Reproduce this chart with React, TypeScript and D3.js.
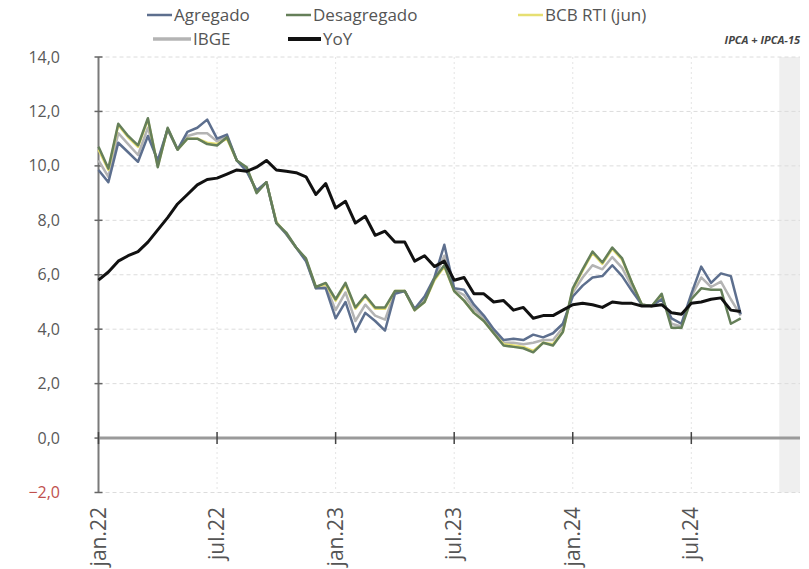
import React from "react";
import * as d3 from "d3";

// semi-monthly observations (IPCA + IPCA-15), jan.22 onwards
const agregado = [9.85, 9.4, 10.85, 10.5, 10.15, 11.1, 10.2, 11.35, 10.6, 11.25, 11.4, 11.7, 11.0, 11.15, 10.2, 9.8, 9.1, 9.4, 7.9, 7.5, 7.0, 6.5, 5.5, 5.5, 4.4, 5.0, 3.9, 4.6, 4.3, 3.95, 5.3, 5.4, 4.75, 5.2, 5.9, 7.1, 5.5, 5.45, 4.9, 4.5, 4.0, 3.6, 3.65, 3.6, 3.8, 3.7, 3.85, 4.2, 5.2, 5.6, 5.9, 5.95, 6.35, 5.95, 5.4, 4.9, 4.85, 5.1, 4.4, 4.2, 5.3, 6.3, 5.7, 6.05, 5.95, 4.55];
const desagregado = [10.7, 9.9, 11.55, 11.1, 10.75, 11.75, 9.95, 11.4, 10.6, 11.0, 11.0, 10.8, 10.75, 11.05, 10.2, 9.95, 9.0, 9.4, 7.9, 7.55, 7.0, 6.6, 5.55, 5.7, 5.1, 5.7, 4.8, 5.25, 4.8, 4.8, 5.4, 5.4, 4.7, 5.0, 5.85, 6.35, 5.4, 5.05, 4.6, 4.3, 3.85, 3.4, 3.35, 3.3, 3.15, 3.5, 3.4, 3.9, 5.5, 6.2, 6.85, 6.45, 7.0, 6.6, 5.7, 4.9, 4.85, 5.3, 4.05, 4.05, 5.1, 5.5, 5.45, 5.45, 4.2, 4.4];
const bcbRti = [10.6, 9.85, 11.5, 11.05, 10.7, 11.7, 10.0, 11.35, 10.6, 11.0, 11.0, 10.85, 10.8, 11.0, 10.2, 9.9, 9.05, 9.4, 7.95, 7.5, 7.0, 6.55, 5.55, 5.65, 5.05, 5.65, 4.75, 5.2, 4.75, 4.75, 5.4, 5.4, 4.7, 5.0, 5.8, 6.3, 5.4, 5.05, 4.6, 4.3, 3.85, 3.45, 3.4, 3.35, 3.2, 3.5, 3.45, 3.9, 5.45, 6.15, 6.8, 6.4, 6.95, 6.55, 5.7, 4.9, 4.85, 5.25];
const ibge = [10.2, 9.6, 11.2, 10.8, 10.4, 11.4, 10.1, 11.35, 10.6, 11.1, 11.2, 11.2, 10.9, 11.1, 10.2, 9.85, 9.05, 9.4, 7.9, 7.5, 7.0, 6.55, 5.5, 5.6, 4.7, 5.35, 4.3, 4.9, 4.5, 4.35, 5.35, 5.4, 4.7, 5.1, 5.85, 6.7, 5.45, 5.25, 4.75, 4.4, 3.9, 3.5, 3.5, 3.45, 3.5, 3.6, 3.6, 4.05, 5.35, 5.9, 6.35, 6.2, 6.65, 6.25, 5.55, 4.9, 4.85, 5.2, 4.2, 4.1, 5.2, 5.9, 5.55, 5.75, 5.1, 4.5];
const yoy = [5.8, 6.1, 6.5, 6.7, 6.85, 7.2, 7.65, 8.1, 8.6, 8.95, 9.3, 9.5, 9.55, 9.7, 9.85, 9.8, 9.95, 10.2, 9.85, 9.8, 9.75, 9.6, 8.95, 9.35, 8.45, 8.7, 7.9, 8.15, 7.45, 7.6, 7.2, 7.2, 6.5, 6.7, 6.3, 6.5, 5.8, 5.9, 5.3, 5.3, 5.0, 5.05, 4.7, 4.8, 4.4, 4.5, 4.5, 4.7, 4.9, 4.95, 4.9, 4.8, 5.0, 4.95, 4.95, 4.85, 4.85, 4.9, 4.6, 4.55, 4.95, 5.0, 5.1, 5.15, 4.7, 4.65];

const xTickIdx = [0, 12, 24, 36, 48, 60];
const xTickLabels = ["jan.22", "jul.22", "jan.23", "jul.23", "jan.24", "jul.24"];
const yTicks = [-2, 0, 2, 4, 6, 8, 10, 12, 14];

const FONT = "'Open Sans', 'DejaVu Sans', sans-serif";

export default function App() {
  const W = 809, H = 569;
  const x = d3.scaleLinear().domain([0, 71]).range([98.5, 800]);
  const y = d3.scaleLinear().domain([-2, 14]).range([492.5, 57]);
  const line = d3.line<number>().x((_, i) => x(i)).y((d) => y(d));

  const series = [
    { name: "IBGE", data: ibge, color: "#b4b4b4", w: 2.5 },
    { name: "BCB RTI (jun)", data: bcbRti, color: "#e6df72", w: 2.5 },
    { name: "Agregado", data: agregado, color: "#5d6f8e", w: 2.5 },
    { name: "Desagregado", data: desagregado, color: "#657f59", w: 2.5 },
    { name: "YoY", data: yoy, color: "#111111", w: 3 },
  ];

  const legend = [
    { name: "Agregado", color: "#5d6f8e", x1: 147, x2: 172, y: 15, w: 2.5 },
    { name: "Desagregado", color: "#657f59", x1: 286, x2: 311, y: 15, w: 2.5 },
    { name: "BCB RTI (jun)", color: "#e6df72", x1: 518, x2: 543, y: 15, w: 2.5 },
    { name: "IBGE", color: "#b4b4b4", x1: 153, x2: 191, y: 39, w: 3.5 },
    { name: "YoY", color: "#111111", x1: 288, x2: 321, y: 39, w: 4 },
  ];

  return (
    <svg width={W} height={H} style={{ position: "absolute", left: 0, top: 0, background: "#fff" }} fontFamily={FONT}>
      <rect x={0} y={0} width={W} height={H} fill="#fff" />
      {/* shaded band */}
      <rect x={x(68.9)} y={y(14)} width={x(71) - x(68.9)} height={y(-2) - y(14)} fill="#efefef" />
      {/* horizontal grid */}
      {yTicks.filter((t) => t !== 0).map((t) => (
        <line key={"g" + t} x1={x(0)} x2={x(71)} y1={y(t)} y2={y(t)} stroke="#dcdcdc" strokeWidth={1} strokeDasharray="4,3" />
      ))}
      {/* vertical grid */}
      {xTickIdx.slice(1).map((t) => (
        <line key={"v" + t} x1={x(t)} x2={x(t)} y1={y(14)} y2={y(-2)} stroke="#e4e4e4" strokeWidth={1} strokeDasharray="2,3" />
      ))}
      {/* y axis */}
      <line x1={x(0)} x2={x(0)} y1={y(14)} y2={y(-2)} stroke="#7a7a7a" strokeWidth={2} />
      {yTicks.map((t) => (
        <g key={"yt" + t}>
          <line x1={x(0) - 4} x2={x(0) + 4} y1={y(t)} y2={y(t)} stroke="#666" strokeWidth={1.5} />
          <text x={60} y={y(t)} dy="0.35em" textAnchor="end" fontSize={16} fill={t < 0 ? "#c0504d" : "#595959"}>
            {d3.format(".1f")(t).replace(".", ",")}
          </text>
        </g>
      ))}
      {/* zero line */}
      <line x1={x(0)} x2={x(71)} y1={y(0)} y2={y(0)} stroke="#9a9a9a" strokeWidth={3} />
      {xTickIdx.map((t, i) => (
        <g key={"xt" + t}>
          <line x1={x(t)} x2={x(t)} y1={y(0) - 6} y2={y(0) + 6} stroke="#444" strokeWidth={1.5} />
          <text transform={`translate(${x(t) + 7},${507}) rotate(-90)`} textAnchor="end" fontSize={21} fill="#555">
            {xTickLabels[i]}
          </text>
        </g>
      ))}
      {/* series */}
      {series.map((s) => (
        <path key={s.name} d={line(s.data) || ""} fill="none" stroke={s.color} strokeWidth={s.w} strokeLinejoin="round" />
      ))}
      {/* legend */}
      {legend.map((l) => (
        <g key={"l" + l.name}>
          <line x1={l.x1} x2={l.x2} y1={l.y} y2={l.y} stroke={l.color} strokeWidth={l.w} />
          <text x={l.x2 + 2} y={l.y} dy="0.35em" fontSize={17} fill="#555">{l.name}</text>
        </g>
      ))}
      <text x={800} y={44} textAnchor="end" fontSize={11} fontWeight="bold" fontStyle="italic" fill="#444">IPCA + IPCA-15</text>
    </svg>
  );
}
